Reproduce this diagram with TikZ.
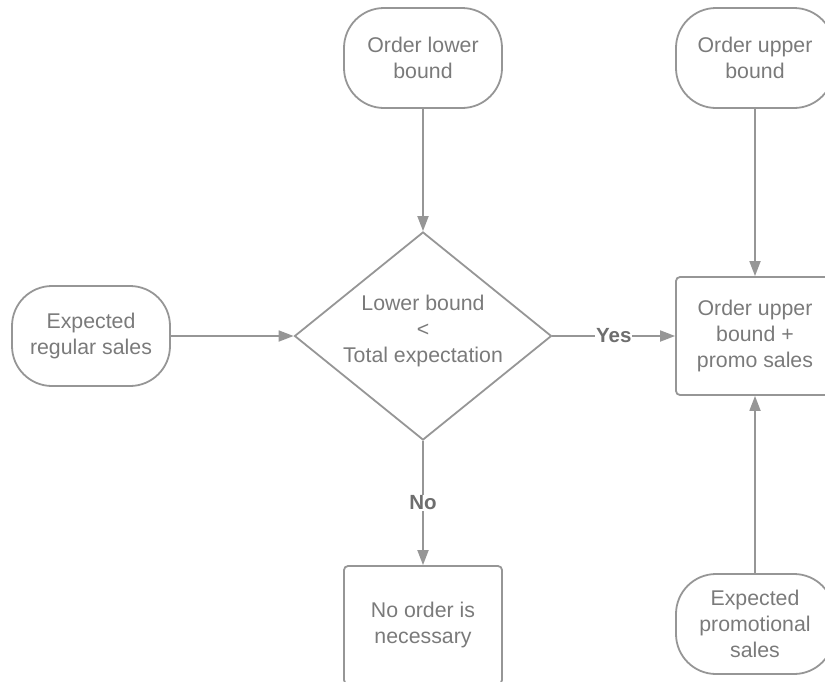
\documentclass[tikz,border=0pt]{standalone}
\usepackage{fontspec}
\setmainfont{Liberation Sans}
\usetikzlibrary{shapes.geometric,arrows.meta}
\definecolor{linegray}{RGB}{150,150,150}
\definecolor{textgray}{RGB}{122,122,122}

\begin{document}
\begin{tikzpicture}[x=1pt,y=-1pt,
    every node/.style={text=textgray,font=\fontsize{21.3}{26}\selectfont,align=center},
    terminal/.style={draw=linegray,line width=1.8pt,rounded corners=40pt,minimum width=158pt,minimum height=100pt},
    process/.style={draw=linegray,line width=1.8pt,rounded corners=4pt,minimum width=158pt,minimum height=118pt},
    decision/.style={draw=linegray,line width=1.8pt,diamond,inner sep=0pt,minimum width=257pt,minimum height=208pt},
    flow/.style={draw=linegray,line width=1.8pt,-{Triangle[length=15pt,width=11pt]}},
    answer/.style={fill=white,text=textgray!90!black,font=\fontsize{20.5}{26}\selectfont\bfseries,inner sep=1pt}]
      \useasboundingbox (0,0) rectangle (825,681);
      \clip (0,0) rectangle (825,681);
      \node [terminal] (lower) at (423,58) {Order lower\\bound};
      \node [terminal] (upper) at (755,58) {Order upper\\bound};
      \node [terminal] (regular) at (91,336) {Expected\\regular sales};
      \node [decision,label={[yshift=5pt]center:Lower bound\\<\\Total expectation}] (check) at (423,336) {};
      \node [process] (promo) at (755,336) {Order upper\\bound +\\promo sales};
      \node [process] (none) at (423,625) {No order is\\necessary};
      \node [terminal] (promosales) at (755,624) {Expected\\promotional\\sales};
      \draw [flow] (lower) -- (check);
      \draw [flow] (upper) -- (promo);
      \draw [flow] (promosales) -- (promo);
      \draw [flow] (regular) -- (check);
      \draw [flow] (check) -- node [answer] {Yes} (promo);
      \draw [flow] (check) -- node [answer] {No} (none);
    \end{tikzpicture}
\end{document}
